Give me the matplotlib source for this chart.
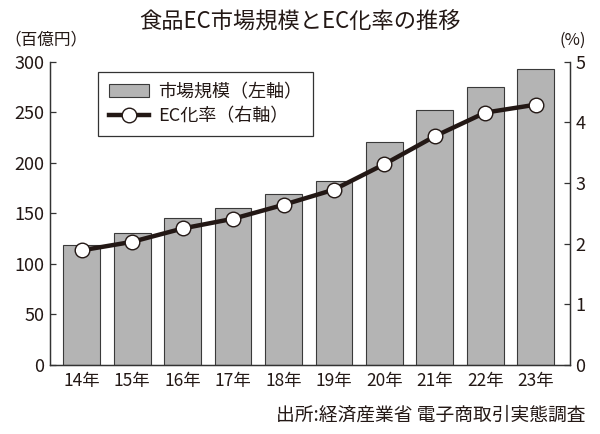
import matplotlib
matplotlib.use("Agg")
import matplotlib.pyplot as plt

plt.rcParams["font.family"] = ["Noto Sans CJK JP", "DejaVu Sans"]

years = ["14年", "15年", "16年", "17年", "18年", "19年", "20年", "21年", "22年", "23年"]
market_size = [119, 131, 145, 155, 169, 182, 221, 252, 275, 293]  # 百億円
ec_rate = [1.89, 2.03, 2.25, 2.41, 2.64, 2.89, 3.31, 3.77, 4.16, 4.29]  # %

ink = "#231815"

fig = plt.figure(figsize=(6, 4.34), dpi=100)
ax = fig.add_axes([0.0833, 0.159, 0.8667, 0.699])
ax2 = ax.twinx()

x = range(len(years))

# BARS
bars = ax.bar(
    x, market_size, width=0.73,
    color="#b4b4b4", edgecolor="#3a3a3a", linewidth=0.8,
    zorder=2
)

# LINE
line, = ax2.plot(
    x, ec_rate, color=ink, linewidth=3.2,
    marker="o", markersize=10.5, markerfacecolor="white",
    markeredgecolor=ink, markeredgewidth=1.0,
    zorder=3
)

ax.set_xlim(-0.63, 9.68)
ax.set_ylim(0, 300)
ax2.set_ylim(0, 5)
ax.set_yticks([0, 50, 100, 150, 200, 250, 300])
ax2.set_yticks([0, 1, 2, 3, 4, 5])
ax.set_xticks(list(x))
ax.set_xticklabels(years, fontsize=12.5, color=ink)

for a in (ax, ax2):
    a.spines["top"].set_visible(False)
    for s in ("left", "right", "bottom"):
        a.spines[s].set_color("#333333")
        a.spines[s].set_linewidth(0.9)

ax.tick_params(axis="x", length=0, pad=5)
ax.tick_params(axis="y", direction="in", length=4.5, width=0.9, pad=4,
               labelsize=13, colors="#333333", labelcolor=ink)
ax2.tick_params(axis="y", direction="in", length=4.5, width=0.9, pad=4,
                labelsize=13, colors="#333333", labelcolor=ink)

# LEGEND
leg = ax.legend(
    [bars, line], ["市場規模（左軸）", "EC化率（右軸）"],
    loc="upper left", bbox_to_anchor=(0.093, 0.965), borderaxespad=0,
    fontsize=13, frameon=True, fancybox=False, framealpha=1,
    edgecolor="#333333", handlelength=2.2, handletextpad=0.5,
    borderpad=0.6, labelspacing=0.35
)
leg.get_frame().set_linewidth(0.9)
for t in leg.get_texts():
    t.set_color(ink)

fig.text(0.5, 0.95, "食品EC市場規模とEC化率の推移", ha="center", va="center",
         fontsize=16, color=ink)
fig.text(0.008, 0.908, "（百億円）", ha="left", va="center", fontsize=12, color=ink)
fig.text(0.977, 0.908, "(%)", ha="right", va="center", fontsize=12, color=ink)
fig.text(0.975, 0.044, "出所:経済産業省 電子商取引実態調査", ha="right", va="center",
         fontsize=13.5, color=ink)

fig.savefig("out.png", dpi=100)
